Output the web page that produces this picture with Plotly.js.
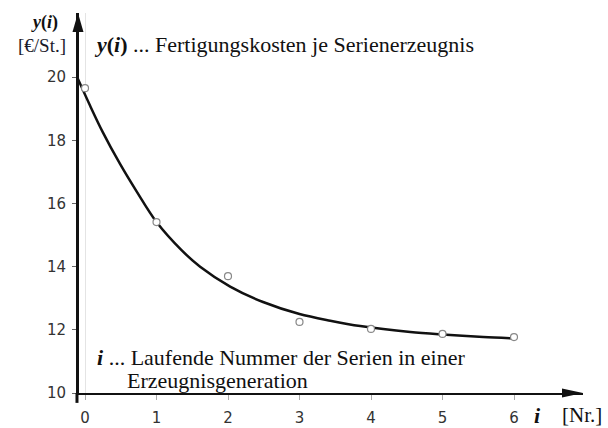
<!DOCTYPE html>
<html>
<head>
<meta charset="utf-8">
<script src="https://cdn.plot.ly/plotly-3.0.1.min.js"></script>
<style>html,body{margin:0;padding:0;background:#fff}#chart{width:608px;height:428px}</style>
</head>
<body>
<div id="chart"></div>
<script>
// Measured data points (i, cost)
const seriesNr = [0, 1, 2, 3, 4, 5, 6];
const costs = [19.65, 15.41, 13.70, 12.25, 12.03, 11.87, 11.77];
// Fitted curve
const curveX = [-0.11, 0.07, 0.25, 0.49, 0.73, 1.0, 1.35, 1.61, 2.03, 2.49, 3.0, 3.43, 3.85, 4.55, 5.0, 5.57, 5.97];
const curveY = [20.0, 19.1, 18.25, 17.25, 16.35, 15.41, 14.52, 14.0, 13.37, 12.88, 12.5, 12.29, 12.12, 11.93, 11.85, 11.77, 11.73];
const yTicks = [10, 12, 14, 16, 18, 20];
const xTicks = [0, 1, 2, 3, 4, 5, 6];

const serif = "Liberation Serif, Times New Roman, serif";
const sans = "DejaVu Sans, Arial, sans-serif";

const traces = [
  {x: curveX, y: curveY, mode: 'lines', line: {color: '#111', width: 2.5, shape: 'spline', smoothing: 0.9}, hoverinfo: 'skip'},
  {x: seriesNr, y: costs, mode: 'markers', marker: {symbol: 'circle', size: 7, color: '#fff', line: {color: '#888', width: 1.2}}}
];

const layout = {
  width: 608, height: 428,
  margin: {l: 79, r: 25, t: 13, b: 35},
  paper_bgcolor: '#fff', plot_bgcolor: '#fff',
  showlegend: false,
  xaxis: {
    range: [-0.084, 6.965], tickvals: xTicks, ticktext: xTicks.map(String),
    showgrid: false, zeroline: true, zerolinecolor: '#e4e4e4', zerolinewidth: 1,
    showline: true, linecolor: '#111', linewidth: 2,
    ticks: 'outside', ticklen: 5, tickcolor: '#aaa', ticklabelstandoff: 5,
    tickfont: {family: sans, size: 15, color: '#333'}
  },
  yaxis: {
    range: [10, 22.03], tickvals: yTicks, ticktext: yTicks.map(String),
    showgrid: false, zeroline: false,
    showline: true, linecolor: '#111', linewidth: 3,
    ticks: 'outside', ticklen: 4, tickcolor: '#666', ticklabelstandoff: 3,
    tickfont: {family: sans, size: 15, color: '#333'}
  },
  shapes: [
    {type: 'path', xref: 'paper', yref: 'paper', path: 'M -0.002 1 L -0.0129 0.95 L 0.0089 0.95 Z', fillcolor: '#111', line: {width: 0}},
    {type: 'path', xref: 'paper', yref: 'paper', path: 'M 1 0 L 0.9583 0.0118 L 0.9583 -0.0118 Z', fillcolor: '#111', line: {width: 0}},
    {type: 'line', xref: 'paper', yref: 'paper', x0: -0.004, x1: -0.004, y0: 0, y1: -0.026, line: {color: '#111', width: 3}}
  ],
  annotations: [
    {xref: 'paper', yref: 'paper', x: -0.0675, y: 0.974, xanchor: 'center', yanchor: 'middle', showarrow: false,
     text: '<b><i>y</i>(<i>i</i>)</b>', font: {family: serif, size: 18, color: '#111'}},
    {xref: 'paper', yref: 'paper', x: -0.0734, y: 0.915, xanchor: 'center', yanchor: 'middle', showarrow: false,
     text: '[€/St.]', font: {family: serif, size: 19, color: '#1a1a2a'}},
    {xref: 'paper', yref: 'paper', x: 0.0258, y: 0.916, xanchor: 'left', yanchor: 'middle', showarrow: false,
     text: '<b><i>y</i>(<i>i</i>)</b> ... Fertigungskosten je Serienerzeugnis', font: {family: serif, size: 22, color: '#111'}},
    {xref: 'paper', yref: 'paper', x: 0.0317, y: 0.0947, xanchor: 'left', yanchor: 'middle', showarrow: false,
     text: '<b><i>i</i></b> ... Laufende Nummer der Serien in einer', font: {family: serif, size: 22, color: '#111'}},
    {xref: 'paper', yref: 'paper', x: 0.0913, y: 0.0342, xanchor: 'left', yanchor: 'middle', showarrow: false,
     text: 'Erzeugnisgeneration', font: {family: serif, size: 22, color: '#111'}},
    {xref: 'paper', yref: 'paper', x: 0.9107, y: -0.058, xanchor: 'center', yanchor: 'middle', showarrow: false,
     text: '<b><i>i</i></b>', font: {family: serif, size: 22, color: '#111'}},
    {xref: 'paper', yref: 'paper', x: 0.9544, y: -0.058, xanchor: 'left', yanchor: 'middle', showarrow: false,
     text: '[Nr.]', font: {family: serif, size: 21, color: '#111'}}
  ]
};

Plotly.newPlot('chart', traces, layout, {displayModeBar: false, staticPlot: true});
</script>
</body>
</html>
